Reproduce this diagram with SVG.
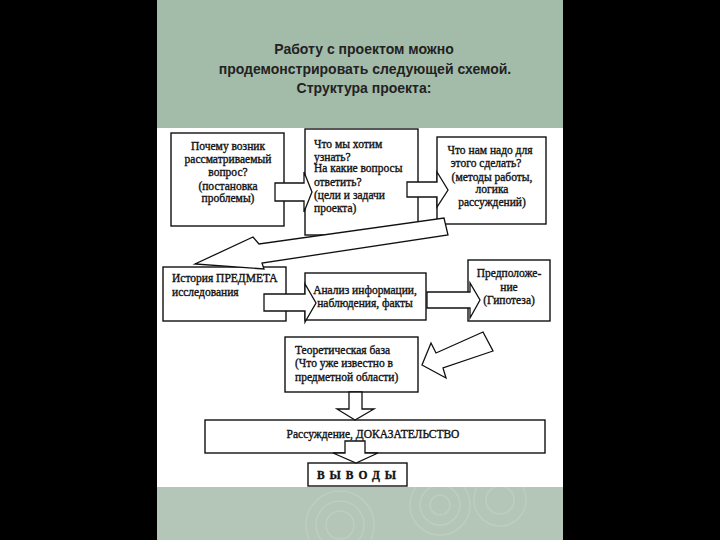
<svg xmlns="http://www.w3.org/2000/svg" width="720" height="540" viewBox="0 0 720 540">
<defs>
<style>
.box{fill:#fff;stroke:#111;stroke-width:1.4}
.arr{fill:#fff;stroke:#111;stroke-width:1.3;stroke-linejoin:miter}
.t{font-family:"Liberation Serif","Times New Roman",serif;font-size:11.5px;fill:#111;stroke:#111;stroke-width:0.35}
.c{text-anchor:middle}
.title{font-family:"Liberation Sans",Arial,sans-serif;font-size:14px;font-weight:bold;fill:#222;text-anchor:middle}
.rip{fill:none;stroke:#c4d3c8;stroke-width:1.5;opacity:0.6}
</style>
<clipPath id="bot"><rect x="157" y="487" width="406" height="53"/></clipPath>
</defs>
<rect x="0" y="0" width="720" height="540" fill="#000"/>
<rect x="157" y="0" width="406" height="128" fill="#a3bba9"/>
<rect x="157" y="128" width="406" height="359" fill="#fff"/>
<rect x="157" y="487" width="406" height="53" fill="#b3c6b8"/>
<g clip-path="url(#bot)">
<circle class="rip" cx="340" cy="525" r="14"/>
<circle class="rip" cx="340" cy="525" r="24"/>
<circle class="rip" cx="340" cy="525" r="34"/>
<circle class="rip" cx="440" cy="505" r="10"/>
<circle class="rip" cx="440" cy="505" r="20"/>
<circle class="rip" cx="440" cy="505" r="30"/>
<circle class="rip" cx="500" cy="500" r="14"/>
<circle class="rip" cx="500" cy="500" r="26"/>
</g>
<g id="title">
<text class="title" x="364" y="54">Работу с проектом можно</text>
<text class="title" x="365" y="74">продемонстрировать следующей схемой.</text>
<text class="title" x="364" y="93">Структура проекта:</text>
</g>
<g id="n1">
<rect class="box" x="171" y="133" width="113" height="93"/>
<text class="t c" x="228" y="150">Почему возник</text>
<text class="t c" x="228" y="163">рассматриваемый</text>
<text class="t c" x="228" y="176">вопрос?</text>
<text class="t c" x="228" y="190">(постановка</text>
<text class="t c" x="228" y="202">проблемы)</text>
</g>
<g id="n2">
<rect class="box" x="305" y="129" width="113" height="106"/>
<text class="t" x="314" y="148">Что мы хотим</text>
<text class="t" x="314" y="161">узнать?</text>
<text class="t" x="314" y="172">На какие вопросы</text>
<text class="t" x="314" y="186">ответить?</text>
<text class="t" x="314" y="199">(цели и задачи</text>
<text class="t" x="314" y="212">проекта)</text>
</g>
<g id="n3">
<rect class="box" x="437" y="137" width="109" height="87"/>
<text class="t c" x="490" y="154">Что нам надо для</text>
<text class="t c" x="486" y="167">этого сделать?</text>
<text class="t c" x="492" y="181">(методы работы,</text>
<text class="t c" x="492" y="193">логика</text>
<text class="t c" x="492" y="206">рассуждений)</text>
</g>
<g id="n4">
<rect class="box" x="163" y="267" width="123" height="54"/>
<text class="t" x="172" y="282">История ПРЕДМЕТА</text>
<text class="t" x="172" y="296">исследования</text>
</g>
<g id="n5">
<rect class="box" x="305" y="273" width="121" height="47"/>
<text class="t c" x="365" y="294">Анализ информации,</text>
<text class="t c" x="365" y="307">наблюдения, факты</text>
</g>
<g id="n6">
<rect class="box" x="468" y="260" width="82" height="61"/>
<text class="t c" x="509" y="277">Предположе-</text>
<text class="t c" x="509" y="291">ние</text>
<text class="t c" x="509" y="304">(Гипотеза)</text>
</g>
<g id="n7">
<rect class="box" x="285" y="337" width="133" height="55"/>
<text class="t" x="295" y="354">Теоретическая база</text>
<text class="t" x="295" y="367">(Что уже известно в</text>
<text class="t" x="295" y="381">предметной области)</text>
</g>
<g id="n8">
<rect class="box" x="205" y="420" width="340" height="33"/>
<text class="t c" x="373" y="438">Рассуждение, ДОКАЗАТЕЛЬСТВО</text>
</g>
<g id="n9">
<rect class="box" x="308" y="463" width="99" height="23"/>
<text class="t c" x="359" y="479" style="letter-spacing:5px;font-weight:bold">ВЫВОДЫ</text>
</g>
<g id="connectors">
<polygon class="arr" points="275,183 304,183 304,172 312,192 304,212 304,201 275,201"/>
<polygon class="arr" points="407,182 437,182 437,172 448,190 437,207 437,197 407,197"/>
<polygon class="arr" points="444,218 448,235 262,263 264,269 195,264 253,237 259,244"/>
<polygon class="arr" points="264,294 305,294 305,284 316,303 305,322 305,311 264,311"/>
<polygon class="arr" points="427,292 470,292 470,283 480,300 470,318 470,308 427,308"/>
<polygon class="arr" points="483,332 493,351 443,368 446,378 422,365 431,343 436,353"/>
<polygon class="arr" points="349,392 362,392 362,409 374,409 355,420 337,409 349,409"/>
<polygon class="arr" points="345,441 365,441 365,453 378,453 356,463 333,453 345,453"/>
</g>
</svg>
